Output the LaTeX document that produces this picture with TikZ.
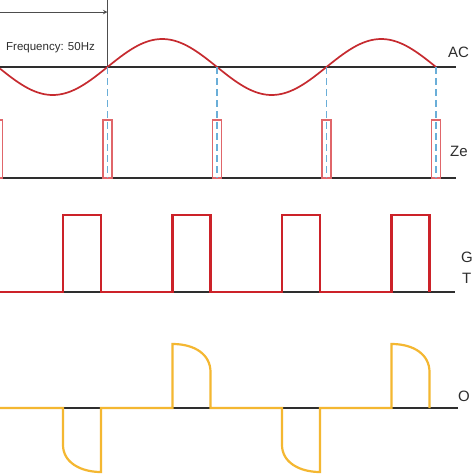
\documentclass[tikz,border=0pt]{standalone}
\usepackage{fontspec}
\setmainfont{Liberation Sans}
\usepackage{tikz}
\usetikzlibrary{arrows}
\definecolor{ink}{HTML}{2E2E2E}
\definecolor{acred}{HTML}{C62A2F}
\definecolor{zcred}{HTML}{E0666A}
\definecolor{gred}{HTML}{CC2229}
\definecolor{outy}{HTML}{F4B731}
\definecolor{dsh}{HTML}{6AAED8}
\tikzset{
  axis/.style  ={draw=ink, line width=1.8pt},
  acw/.style   ={draw=acred, line width=1.7pt},
  zcbox/.style ={draw=zcred, line width=1.3pt},
  gate/.style  ={draw=gred, line width=2.4pt},
  outw/.style  ={draw=outy, line width=2.2pt},
  sync/.style  ={draw=dsh, line width=1.9pt, dash pattern=on 7pt off 4pt},
  pmark/.style ={draw=ink!85, line width=1pt},
  lbl/.style   ={font=\fontsize{15}{17}\selectfont, text=ink, inner sep=0pt, anchor=base west},
  flbl/.style  ={font=\fontsize{11.5}{13}\selectfont, text=ink, inner sep=0pt, anchor=base west},
}

\begin{document}
\begin{tikzpicture}[x=1pt,y=-1pt]
  \clip (0,0) rectangle (474,474);
  \fill[white] (0,0) rectangle (474,474);
  % period marker
  \coordinate (ftop) at (107.5,0);
  \coordinate (fbot) at (107.5,67);
  \coordinate (fl) at (-5,12);
  \coordinate (fr) at (107.5,12);
  \draw[pmark] (ftop) -- (fbot);
  \draw[pmark,->,>=stealth] (fl) -- (fr);
  \node[flbl] (freq) at (6,50) {Frequency: 50Hz};
  % axes
  \draw[axis] (0,67) -- (456,67);
  \draw[axis] (0,178) -- (456,178);
  \draw[axis] (0,292) -- (455,292);
  \draw[axis] (0,408) -- (458,408);
  % AC line
  \draw[acw] plot[domain=0:436, samples=150, smooth] (\x, {67+28*sin((\x+2)/109.5*180)});
  % zero crossing pulses
  \foreach \c in {-2,107.5,217,326.5,436}
    \draw[zcbox] (\c-4.5,120) rectangle (\c+4.5,178);
  \foreach \c in {107.5,217,326.5,436}
    \draw[sync] (\c,67) -- (\c,178);
  % gate trigger
  \draw[gate] (0,292) \foreach \s in {63,172.5,282,391.5}{
      -- (\s,292) -- (\s,215) -- (\s+38,215) -- (\s+38,292)};
  % output
  \draw[outw] (0,408) \foreach \s/\t in {63/172.5,282/391.5}{
      -- (\s,408) -- (\s,445) .. controls (\s,462) and (\s+17,472) .. (\s+38,472) -- (\s+38,408)
      -- (\t,408) -- (\t,344) .. controls (\t+23,344) and (\t+38,355) .. (\t+38,372) -- (\t+38,408)};
  % labels
  \node[lbl] (ac) at (448,57) {AC};
  \node[lbl] (zc) at (450,156) {Ze};
  \node[lbl] (g1) at (461,262) {G};
  \node[lbl] (g2) at (462,283) {T};
  \node[lbl] (out) at (458,401) {O};
\end{tikzpicture}
\end{document}
